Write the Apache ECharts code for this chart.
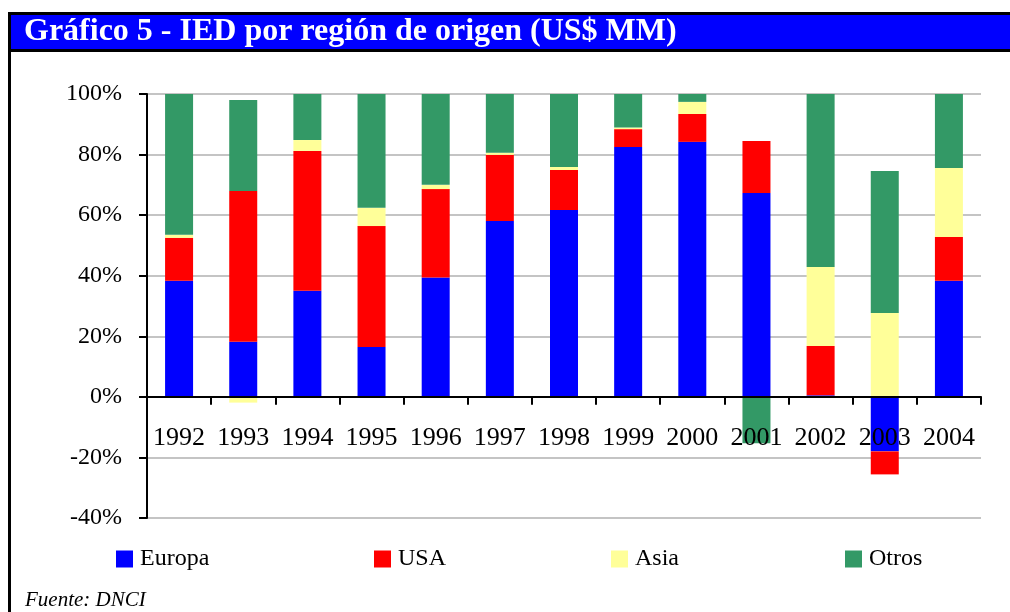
<!DOCTYPE html>
<html>
<head>
<meta charset="utf-8">
<script src="https://cdn.jsdelivr.net/npm/echarts@6/dist/echarts.min.js"></script>
<style>
html,body{margin:0;padding:0;background:#fff;}
#chart{width:1010px;height:612px;}
</style>
</head>
<body>
<div id="chart"></div>
<script>
const years = ['1992','1993','1994','1995','1996','1997','1998','1999','2000','2001','2002','2003','2004'];
const europa = [38.3, 18.2, 35.0, 16.5, 39.4, 58.1, 61.7, 82.5, 84.2, 67.3, 0.5, -18.0, 38.3];
const usa    = [14.2, 49.8, 46.2, 39.9, 29.2, 21.8, 13.2, 5.9, 9.2, 17.2, 16.3, -7.6, 14.5];
const asia   = [1.0, -1.9, 3.6, 6.0, 1.4, 0.7, 1.0, 0.5, 4.0, 0, 26.1, 27.7, 22.8];
const otros  = [46.5, 30.0, 15.2, 37.6, 30.0, 19.4, 24.1, 11.1, 2.6, -15.3, 57.1, 46.9, 24.4];
const seriesNames = ['Europa', 'USA', 'Asia', 'Otros'];
const colors = ['#0000FF', '#FF0000', '#FFFF99', '#339966'];
const titleText = 'Gráfico 5 - IED por región de origen (US$ MM)';
const sourceText = 'Fuente: DNCI';

const chart = echarts.init(document.getElementById('chart'), null, {renderer: 'canvas'});
const serif = '"Liberation Serif", "Times New Roman", serif';
const dataSets = [europa, usa, asia, otros];
const legendLefts = [116, 374, 611, 845];

const option = {
  animation: false,
  backgroundColor: '#fff',
  textStyle: {fontFamily: serif},
  grid: {left: 147, right: 29, top: 94, bottom: 94, containLabel: false},
  legend: seriesNames.map((n, i) => ({
    data: [n],
    left: legendLefts[i],
    top: 547,
    icon: 'rect',
    itemWidth: 17,
    itemHeight: 17,
    itemGap: 7,
    padding: 0,
    selectedMode: false,
    textStyle: {fontFamily: serif, fontSize: 24, color: '#000', padding: [2, 0, 0, 2]}
  })),
  xAxis: {
    type: 'category',
    data: years,
    z: 5,
    axisLine: {show: true, onZero: true, lineStyle: {color: '#000', width: 2}},
    axisTick: {show: true, interval: 0, length: 8, lineStyle: {color: '#000', width: 2}},
    axisLabel: {interval: 0, margin: -93, fontFamily: serif, fontSize: 26, color: '#000'},
    splitLine: {show: false}
  },
  yAxis: {
    type: 'value',
    min: -40,
    max: 100,
    interval: 20,
    axisLine: {show: true, lineStyle: {color: '#000', width: 2}},
    axisTick: {show: true, length: 8, lineStyle: {color: '#000', width: 2}},
    axisLabel: {margin: 25, fontFamily: serif, fontSize: 24, color: '#000', formatter: v => v + '%'},
    splitLine: {show: true, lineStyle: {color: '#c4c4c4', width: 2}}
  },
  series: seriesNames.map((n, i) => ({
    name: n,
    type: 'bar',
    stack: 'total',
    barWidth: 28,
    data: dataSets[i],
    itemStyle: {color: colors[i]}
  })),
  graphic: [
    {type: 'rect', shape: {x: 9.5, y: 13.5, width: 1020, height: 620}, style: {fill: 'none', stroke: '#000', lineWidth: 3}, z: 10, silent: true},
    {type: 'rect', shape: {x: 11, y: 15, width: 1010, height: 34}, style: {fill: '#0000FF'}, z: 9, silent: true},
    {type: 'rect', shape: {x: 9, y: 49, width: 1010, height: 3}, style: {fill: '#000'}, z: 10, silent: true},
    {type: 'text', left: 24, top: 16, z: 11, silent: true,
      style: {text: titleText, fill: '#fff', font: 'bold 32px ' + serif}},
    {type: 'text', left: 25, top: 590, z: 11, silent: true,
      style: {text: sourceText, fill: '#000', font: 'italic 21px ' + serif}}
  ]
};
chart.setOption(option);
</script>
</body>
</html>
